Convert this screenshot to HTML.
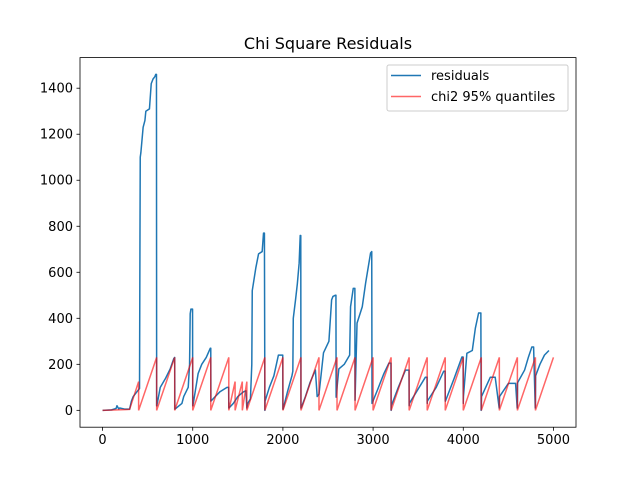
<!DOCTYPE html>
<html><head><meta charset="utf-8"><style>
html,body{margin:0;padding:0;background:#fff}
svg text{font-family:"DejaVu Sans","Liberation Sans",sans-serif}
</style></head><body>
<svg id="chart" width="640" height="480" viewBox="0 0 640 480">
<rect x="0" y="0" width="640" height="480" fill="#fff"/>
<text x="328" y="49" font-size="16" text-anchor="middle" fill="#000">Chi Square Residuals</text>
<g id="plot"></g>
<g id="axes"></g>
<g>
<rect x="387" y="65" width="181" height="46" rx="2" fill="#fff" fill-opacity="0.8" stroke="#ccc"/>
<line x1="391" y1="75.5" x2="421" y2="75.5" stroke="#1f77b4" stroke-width="1.5"/>
<text x="431" y="80" font-size="13">residuals</text>
<line x1="391" y1="96.5" x2="421" y2="96.5" stroke="#ff0000" stroke-opacity="0.6" stroke-width="1.5"/>
<text x="431" y="101" font-size="13">chi2 95% quantiles</text>
</g>
</svg>
<script>
const xTicks = [0, 1000, 2000, 3000, 4000, 5000];
const yTicks = [0, 200, 400, 600, 800, 1000, 1200, 1400];
const chiX = [0,300,400,400,600,600,800,800,1000,1000,1200,1200,1400,1400,1470,1470,1550,1550,1600,1600,1800,1800,2000,2000,2200,2200,2400,2400,2600,2600,2800,2800,3000,3000,3200,3200,3400,3400,3600,3600,3800,3800,4000,4000,4200,4200,4400,4400,4600,4600,4800,4800,5000];
const chiY = [0,4,125,0,230,0,230,0,230,0,230,0,230,0,125,0,125,0,125,0,230,0,230,0,230,0,230,0,230,0,230,0,230,0,230,0,230,0,230,0,230,0,230,0,230,0,230,0,230,0,230,0,230];
const resX = [0,100,150,160,180,190,250,300,320,340,380,400,410,415,418,425,450,470,480,520,540,560,580,590,598,600,602,640,700,750,790,800,802,880,900,950,965,972,980,998,1000,1002,1060,1100,1150,1195,1200,1202,1250,1300,1380,1398,1400,1402,1450,1500,1560,1590,1600,1610,1640,1655,1660,1700,1730,1770,1785,1795,1800,1802,1850,1900,1950,1998,2000,2002,2050,2100,2110,2115,2140,2160,2180,2192,2198,2200,2202,2250,2300,2360,2380,2400,2450,2510,2540,2555,2580,2588,2590,2620,2680,2740,2750,2780,2798,2800,2822,2880,2917,2972,2985,2988,3050,3120,3175,3198,3200,3202,3280,3359,3398,3400,3402,3480,3580,3598,3600,3602,3700,3783,3798,3800,3802,3900,3985,3998,4000,4002,4040,4100,4134,4170,4195,4198,4200,4202,4300,4354,4398,4400,4402,4500,4580,4598,4600,4602,4680,4723,4760,4780,4798,4800,4802,4850,4900,4950,5000];
const resY = [0,2,8,20,6,10,5,5,40,60,80,90,95,750,1100,1120,1230,1260,1300,1310,1420,1440,1450,1460,1460,20,20,100,140,180,225,230,5,30,60,100,200,420,440,440,20,20,160,200,230,270,270,40,60,80,100,100,10,10,30,60,80,85,10,30,50,200,520,620,680,690,770,770,0,40,100,150,240,240,5,5,80,150,170,400,480,550,640,760,760,10,10,60,120,175,60,70,250,300,480,495,500,500,57,180,200,240,450,530,530,44,379,450,553,684,690,30,90,160,205,205,0,20,100,175,175,20,30,80,144,144,30,40,100,170,170,40,40,140,232,232,30,60,248,260,357,423,423,0,10,60,144,144,10,20,60,117,117,10,20,120,175,232,275,275,10,30,150,200,240,260];

const L=80,R=576,T=57.6,B=427.2;
const xMin=-250,xMax=5250,yMin=-73.3,yMax=1533;
const sx=v=>L+(v-xMin)/(xMax-xMin)*(R-L);
const sy=v=>B-(v-yMin)/(yMax-yMin)*(B-T);
const NS='http://www.w3.org/2000/svg';
const plot=document.getElementById('plot'), axes=document.getElementById('axes');
function mk(tag,attrs,parent){const e=document.createElementNS(NS,tag);for(const k in attrs)e.setAttribute(k,attrs[k]);parent.appendChild(e);return e;}

const clip=mk('clipPath',{id:'clp'},plot);
mk('rect',{x:L,y:T,width:R-L,height:B-T},clip);

const rp=mk('polyline',{points:resX.map((x,i)=>sx(x).toFixed(2)+','+sy(resY[i]).toFixed(2)).join(' '),fill:'none',stroke:'#1f77b4','stroke-width':1.5,'stroke-linejoin':'round','clip-path':'url(#clp)'},plot);


const cp=mk('polyline',{points:chiX.map((x,i)=>sx(x).toFixed(2)+','+sy(chiY[i]).toFixed(2)).join(' '),fill:'none',stroke:'#ff0000','stroke-opacity':0.6,'stroke-width':1.5,'clip-path':'url(#clp)'},plot);



const frame=mk('rect',{x:L,y:T,width:R-L,height:B-T,fill:'none',stroke:'#000','stroke-width':0.8},axes);


xTicks.forEach(v=>{
  const x=sx(v);
  const t=mk('line',{x1:x,y1:B,x2:x,y2:B+3.5,stroke:'#000','stroke-width':0.8},axes);
  
  
  const lb=mk('text',{x:x,y:B+17,'font-size':13,'text-anchor':'middle'},axes);
  lb.textContent=v;
  
  
});
yTicks.forEach(v=>{
  const y=sy(v);
  const t=mk('line',{x1:L,y1:y,x2:L-3.5,y2:y,stroke:'#000','stroke-width':0.8},axes);
  
  
  const lb=mk('text',{x:L-7,y:y+4.5,'font-size':13,'text-anchor':'end'},axes);
  lb.textContent=v;
  
  
});
</script>
</body></html>
